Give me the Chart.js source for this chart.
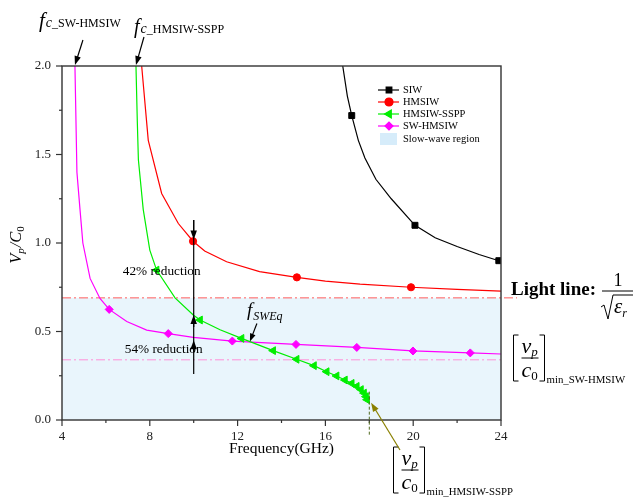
<!DOCTYPE html>
<html><head><meta charset="utf-8">
<script src="https://cdn.jsdelivr.net/npm/chart.js@4.4.1/dist/chart.umd.min.js"></script>
<style>html,body{margin:0;padding:0;background:#fff;}#wrap{width:633px;height:498px;}</style>
</head><body><div id="wrap"><canvas id="c" width="633" height="498"></canvas></div>
<script>
// ---- axis ticks ----
const xTicks = [4, 8, 12, 16, 20, 24];
const xMinorTicks = [6, 10, 14, 18, 22];
const yTicks = [0, 0.5, 1.0, 1.5, 2.0];
const yMinorTicks = [0.25, 0.75, 1.25, 1.75];

// ---- series (frequency GHz, Vp/C0) ----
const siwF = [16.79, 17.0, 17.2, 17.5, 17.8, 18.3, 19.0, 20.08, 21.0, 22.0, 23.0, 23.9, 24.0];
const siwV = [2.0, 1.83, 1.72, 1.58, 1.48, 1.36, 1.25, 1.10, 1.03, 0.98, 0.935, 0.90, 0.898];
const siwMarkF = [17.2, 20.08, 23.9];

const hmsiwF = [7.63, 7.93, 8.54, 9.3, 9.97, 10.5, 11.5, 13.0, 14.7, 16.0, 17.58, 19.9, 22.0, 24.0];
const hmsiwV = [2.0, 1.58, 1.28, 1.11, 1.01, 0.955, 0.894, 0.838, 0.806, 0.785, 0.768, 0.75, 0.738, 0.728];
const hmsiwMarkF = [9.97, 14.7, 19.9];

const ssppF = [7.37, 7.43, 7.48, 7.7, 8.0, 8.31, 9.15, 9.98, 10.29, 11.2, 12.18, 13.62, 14.69, 15.48, 16.06, 16.51, 16.89, 17.2, 17.43, 17.62, 17.76, 17.85, 17.9];
const ssppV = [2.0, 1.69, 1.47, 1.19, 0.96, 0.847, 0.69, 0.593, 0.565, 0.51, 0.461, 0.392, 0.343, 0.307, 0.273, 0.249, 0.226, 0.207, 0.19, 0.172, 0.152, 0.132, 0.115];
const ssppMarkF = [8.31, 10.29, 12.18, 13.62, 14.69, 15.48, 16.06, 16.51, 16.89, 17.2, 17.43, 17.62, 17.76, 17.85, 17.9];

const swF = [4.59, 4.68, 4.82, 4.95, 5.28, 5.73, 6.15, 6.95, 7.86, 8.84, 9.98, 11.76, 14.66, 17.43, 19.99, 22.6, 24.0];
const swV = [2.0, 1.40, 1.19, 1.0, 0.80, 0.687, 0.625, 0.556, 0.508, 0.488, 0.467, 0.446, 0.427, 0.41, 0.39, 0.379, 0.373];
const swMarkF = [6.15, 8.84, 11.76, 14.66, 17.43, 19.99, 22.6];

const seriesNames = ['SIW', 'HMSIW', 'HMSIW-SSPP', 'SW-HMSIW'];
const regionName = 'Slow-wave region';

// ---- reference levels / annotation values ----
const lightLine = 0.69;
const minSW = 0.34;
const reductionF = 10;
const reductionTop = 1.13, reductionBottom = 0.26;
const reductionTips = [1.02, 0.593, 0.45];   // red, green, magenta at 10 GHz
const reductionLabels = ['42% reduction', '54% reduction'];
const reductionLabelV = [0.837, 0.4];
const fcSW = 4.59, fcSSPP = 7.37;
const fSWEq = [12.56, 0.443];
const minSSPP = [17.9, 0.115];
const minSSPPf = 18.0;

const SERIF = '"Liberation Serif","DejaVu Serif",serif';
const RM = s => s + 'px ' + SERIF;
const IT = s => 'italic ' + s + 'px ' + SERIF;
const BD = s => 'bold ' + s + 'px ' + SERIF;

function mk(label, F, V, marks, color, style, r, rot) {
  return {
    label, data: F.map((f, i) => ({x: f, y: V[i]})),
    borderColor: color, backgroundColor: color, borderWidth: 1.2,
    pointStyle: style, pointRotation: rot || 0,
    pointRadius: F.map(f => marks.includes(f) ? r : 0),
    pointBorderWidth: 1, pointBorderColor: color, pointBackgroundColor: color,
    tension: 0, showLine: true, fill: false
  };
}

function rich(ctx, parts, x, y) {
  let cx = x;
  for (const p of parts) {
    ctx.font = p.f; ctx.fillStyle = p.c || '#000';
    ctx.textAlign = 'left'; ctx.textBaseline = 'alphabetic';
    ctx.fillText(p.t, cx, y + (p.dy || 0));
    cx += ctx.measureText(p.t).width + (p.dx || 0);
  }
  return cx - x;
}
function richWidth(ctx, parts) {
  let w = 0;
  for (const p of parts) { ctx.font = p.f; w += ctx.measureText(p.t).width + (p.dx || 0); }
  return w;
}
function arrow(ctx, x1, y1, x2, y2, color, head, w) {
  head = head || 8;
  const ang = Math.atan2(y2 - y1, x2 - x1);
  const c = Math.cos(ang), s = Math.sin(ang);
  ctx.strokeStyle = color; ctx.fillStyle = color; ctx.lineWidth = w || 1.2;
  ctx.setLineDash([]);
  ctx.beginPath(); ctx.moveTo(x1, y1); ctx.lineTo(x2 - c * head * 0.7, y2 - s * head * 0.7); ctx.stroke();
  ctx.beginPath(); ctx.moveTo(x2, y2);
  ctx.lineTo(x2 - head * c + head * 0.36 * s, y2 - head * s - head * 0.36 * c);
  ctx.lineTo(x2 - head * c - head * 0.36 * s, y2 - head * s + head * 0.36 * c);
  ctx.closePath(); ctx.fill();
}
function line(ctx, x1, y1, x2, y2) { ctx.beginPath(); ctx.moveTo(x1, y1); ctx.lineTo(x2, y2); ctx.stroke(); }

function bracketFrac(ctx, x, top, bottom, sub) {
  ctx.strokeStyle = '#000'; ctx.lineWidth = 1; ctx.setLineDash([]);
  ctx.beginPath(); ctx.moveTo(x + 5, top); ctx.lineTo(x, top); ctx.lineTo(x, bottom); ctx.lineTo(x + 5, bottom); ctx.stroke();
  const rx = x + 31;
  ctx.beginPath(); ctx.moveTo(rx - 5, top); ctx.lineTo(rx, top); ctx.lineTo(rx, bottom); ctx.lineTo(rx - 5, bottom); ctx.stroke();
  const mid = (top + bottom) / 2;
  rich(ctx, [{t: 'v', f: IT(22)}, {t: 'p', f: IT(13), dy: 3}], x + 8, mid - 5);
  line(ctx, x + 8, mid, x + 25, mid);
  rich(ctx, [{t: 'c', f: IT(22)}, {t: '0', f: RM(13), dy: 3}], x + 8, bottom - 4);
  ctx.font = RM(10.8); ctx.fillStyle = '#000'; ctx.textAlign = 'left'; ctx.textBaseline = 'alphabetic';
  ctx.fillText(sub, rx + 2, bottom + 2);
}

const overlay = {
  id: 'overlay',
  beforeDatasetsDraw(chart) {
    const {ctx, chartArea: a, scales: {x, y}} = chart;
    ctx.save();
    const yl = y.getPixelForValue(lightLine), y0 = y.getPixelForValue(0);
    ctx.fillStyle = 'rgb(233,245,252)';
    ctx.fillRect(a.left, yl, a.right - a.left, y0 - yl);
    ctx.lineWidth = 1;
    ctx.setLineDash([9, 3, 2, 3]);
    ctx.strokeStyle = '#ff5c5c';
    line(ctx, a.left, yl, a.right + 16, yl);
    const ym = y.getPixelForValue(minSW);
    ctx.strokeStyle = '#ff8fd8';
    line(ctx, a.left, ym, a.right, ym);
    ctx.restore();
  },
  afterDraw(chart) {
    const {ctx, chartArea: a, scales: {x, y}} = chart;
    ctx.save();
    // frame
    ctx.strokeStyle = '#333'; ctx.lineWidth = 1.4; ctx.setLineDash([]);
    ctx.strokeRect(a.left, a.top, a.right - a.left, a.bottom - a.top);
    // ticks
    ctx.lineWidth = 1.2;
    xTicks.forEach(v => { const p = x.getPixelForValue(v); line(ctx, p, a.bottom, p, a.bottom + 6); });
    xMinorTicks.forEach(v => { const p = x.getPixelForValue(v); line(ctx, p, a.bottom, p, a.bottom + 3); });
    yTicks.forEach(v => { const p = y.getPixelForValue(v); line(ctx, a.left, p, a.left - 6, p); });
    yMinorTicks.forEach(v => { const p = y.getPixelForValue(v); line(ctx, a.left, p, a.left - 3, p); });

    // axis titles
    ctx.font = RM(15.5); ctx.fillStyle = '#000'; ctx.textAlign = 'center'; ctx.textBaseline = 'middle';
    ctx.fillText('Frequency(GHz)', (a.left + a.right) / 2, 449);
    const yt = [{t: 'V', f: IT(16.5)}, {t: 'p', f: IT(11), dy: 3, dx: 1}, {t: '/C', f: IT(16.5)}, {t: '0', f: RM(11), dy: 3}];
    ctx.save(); ctx.translate(21, (a.top + a.bottom) / 2 + 2); ctx.rotate(-Math.PI / 2);
    rich(ctx, yt, -richWidth(ctx, yt) / 2, 0);
    ctx.restore();

    // dashed vertical at min of SSPP
    ctx.strokeStyle = '#4f6a1e'; ctx.lineWidth = 1; ctx.setLineDash([3, 2]);
    const xm = x.getPixelForValue(minSSPPf);
    line(ctx, xm, y.getPixelForValue(0.16), xm, a.bottom + 15);
    ctx.setLineDash([]);

    // reduction line and arrows
    const xr = x.getPixelForValue(reductionF);
    ctx.strokeStyle = '#000'; ctx.lineWidth = 1.2;
    line(ctx, xr, y.getPixelForValue(reductionTop), xr, y.getPixelForValue(reductionBottom));
    arrow(ctx, xr, y.getPixelForValue(reductionTop), xr, y.getPixelForValue(reductionTips[0]), '#000', 9);
    arrow(ctx, xr, y.getPixelForValue(reductionTips[1]) + 12, xr, y.getPixelForValue(reductionTips[1]), '#000', 9);
    arrow(ctx, xr, y.getPixelForValue(reductionTips[2]) + 12, xr, y.getPixelForValue(reductionTips[2]), '#000', 9);
    ctx.font = RM(13.3); ctx.fillStyle = '#000'; ctx.textAlign = 'center'; ctx.textBaseline = 'middle';
    ctx.fillText(reductionLabels[0], xr - 32, y.getPixelForValue(reductionLabelV[0]));
    ctx.fillText(reductionLabels[1], xr - 30, y.getPixelForValue(reductionLabelV[1]));

    // f_SWEq
    const ex = x.getPixelForValue(fSWEq[0]), ey = y.getPixelForValue(fSWEq[1]);
    rich(ctx, [{t: 'f', f: IT(19), dx: 1}, {t: 'SWEq', f: IT(12), dy: 4}], ex - 3, ey - 26);
    arrow(ctx, ex + 7, ey - 18, ex, ey, '#000', 8);

    // cutoff annotations
    const c1 = x.getPixelForValue(fcSW), c2 = x.getPixelForValue(fcSSPP);
    rich(ctx, [{t: 'f', f: IT(21), dx: 1}, {t: 'c', f: IT(14)}, {t: '_SW-HMSIW', f: RM(12)}], 39, 27);
    arrow(ctx, c1 + 8, 40, c1, a.top - 1, '#000', 9);
    rich(ctx, [{t: 'f', f: IT(20), dx: 1}, {t: 'c', f: IT(14)}, {t: '_HMSIW-SSPP', f: RM(12)}], 134, 33);
    arrow(ctx, c2 + 8, 37, c2, a.top - 1, '#000', 9);

    // Light line label
    ctx.font = BD(19); ctx.fillStyle = '#000'; ctx.textAlign = 'left'; ctx.textBaseline = 'alphabetic';
    ctx.fillText('Light line:', 511, 295);
    ctx.font = RM(18); ctx.textAlign = 'center';
    ctx.fillText('1', 618, 286);
    ctx.lineWidth = 1; ctx.strokeStyle = '#000';
    line(ctx, 602, 291, 633, 291);
    ctx.beginPath(); ctx.moveTo(601, 307); ctx.lineTo(604, 305); ctx.lineTo(608, 319); ctx.lineTo(613, 295); ctx.lineTo(633, 295); ctx.stroke();
    rich(ctx, [{t: '\u03b5', f: IT(21)}, {t: 'r', f: IT(12), dy: 4}], 614, 313);

    // brackets
    bracketFrac(ctx, 513.5, 335, 381, 'min_SW-HMSIW');
    bracketFrac(ctx, 393.5, 447, 493, 'min_HMSIW-SSPP');
    const tx = x.getPixelForValue(minSSPP[0]), ty = y.getPixelForValue(minSSPP[1]);
    arrow(ctx, 400, 450, tx + 4, ty + 3, '#8a8000', 9, 1.2);

    // legend
    const ds = chart.data.datasets;
    const rows = [90, 102, 114, 126];
    ds.forEach((d, i) => {
      ctx.strokeStyle = d.borderColor; ctx.lineWidth = 1.2;
      line(ctx, 378, rows[i], 399, rows[i]);
      ctx.fillStyle = d.backgroundColor;
      Chart.helpers.drawPoint(ctx, {pointStyle: d.pointStyle, rotation: d.pointRotation, radius: i === 2 ? 4.5 : 4, borderWidth: 1}, 389, rows[i]);
      ctx.fill();
      ctx.font = RM(10.5); ctx.fillStyle = '#000'; ctx.textAlign = 'left'; ctx.textBaseline = 'middle';
      ctx.fillText(seriesNames[i], 403, rows[i] + 0.5);
    });
    ctx.fillStyle = 'rgb(214,236,250)';
    ctx.fillRect(380, 133, 17, 12);
    ctx.font = RM(10.5); ctx.fillStyle = '#000'; ctx.textAlign = 'left'; ctx.textBaseline = 'middle';
    ctx.fillText(regionName, 403, 139.5);
    ctx.restore();
  }
};

new Chart(document.getElementById('c'), {
  type: 'line',
  data: {
    datasets: [
      mk(seriesNames[0], siwF, siwV, siwMarkF, '#000000', 'rect', 4.2, 0),
      mk(seriesNames[1], hmsiwF, hmsiwV, hmsiwMarkF, '#ff0000', 'circle', 3.6, 0),
      mk(seriesNames[2], ssppF, ssppV, ssppMarkF, '#00ee00', 'triangle', 4.5, 270),
      mk(seriesNames[3], swF, swV, swMarkF, '#ff00ff', 'rectRot', 4, 0)
    ]
  },
  options: {
    responsive: false, animation: false, events: [],
    layout: {padding: {left: 0, right: 132, top: 66, bottom: 0}},
    plugins: {legend: {display: false}, tooltip: {enabled: false}},
    scales: {
      x: {
        type: 'linear', min: 4, max: 24,
        afterBuildTicks: s => { s.ticks = xTicks.map(v => ({value: v})); },
        afterFit: s => { s.height = 78; },
        grid: {display: false, drawTicks: false}, border: {display: false},
        ticks: {font: {family: SERIF, size: 13}, color: '#222', padding: 9, callback: v => String(v)}
      },
      y: {
        type: 'linear', min: 0, max: 2,
        afterBuildTicks: s => { s.ticks = yTicks.map(v => ({value: v})); },
        afterFit: s => { s.width = 62; },
        grid: {display: false, drawTicks: false}, border: {display: false},
        ticks: {font: {family: SERIF, size: 13}, color: '#222', padding: 11, callback: v => v.toFixed(1)}
      }
    }
  },
  plugins: [overlay]
});
</script>
</body></html>
